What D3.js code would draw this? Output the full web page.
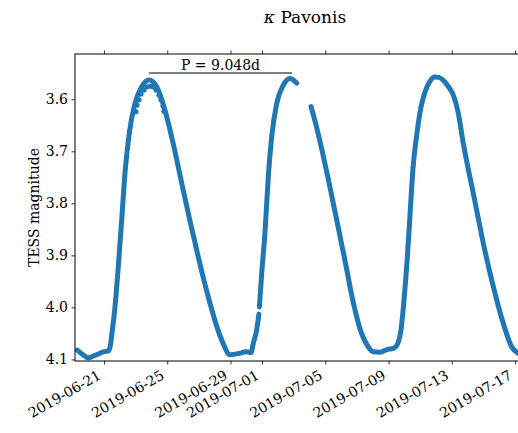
<!DOCTYPE html>
<html>
<head>
<meta charset="utf-8">
<script src="https://cdn.jsdelivr.net/npm/d3@7"></script>
<style>
  body { margin: 0; background: #fff; }
  svg text { font-family: "DejaVu Serif", serif; fill: #000; }
</style>
</head>
<body>
<div id="chart"></div>
<script>
// days since 2019-06-19 00:00 UTC, TESS magnitude
const seg1Days = [0.311, 0.672, 1.007, 1.367, 1.747, 2.0, 2.272, 2.411, 2.506, 2.696, 2.904, 3.12, 3.328, 3.6, 3.961, 4.385, 4.846, 5.333, 5.858, 6.383, 6.915, 7.44, 7.864, 8.281, 8.705, 9.128, 9.546, 9.97, 10.602, 10.981, 11.298, 11.443, 11.658, 11.797]
const seg1Mag = [4.082, 4.091, 4.097, 4.093, 4.088, 4.085, 4.084, 4.072, 4.049, 3.999, 3.922, 3.832, 3.742, 3.665, 3.608, 3.576, 3.563, 3.576, 3.621, 3.686, 3.761, 3.834, 3.89, 3.943, 3.992, 4.036, 4.07, 4.091, 4.088, 4.085, 4.087, 4.069, 4.043, 4.013]
const seg2Days = [11.829, 11.975, 12.184, 12.392, 12.607, 12.924, 13.341, 13.765, 14.189]
const seg2Mag = [3.999, 3.935, 3.855, 3.749, 3.672, 3.608, 3.573, 3.56, 3.569]
const seg3Days = [15.093, 15.409, 15.789, 16.168, 16.548, 16.927, 17.307, 17.623, 17.939, 18.256, 18.635, 19.015, 19.457, 19.9, 20.343, 20.596, 20.786, 20.975, 21.165, 21.355, 21.545, 21.778, 22.051, 22.304, 22.62, 22.905, 23.189, 23.506, 23.79, 24.094, 24.391, 24.726, 25.024, 25.359, 25.992, 26.624, 27.257, 27.788, 28.187, 28.63]
const seg3Mag = [3.614, 3.649, 3.698, 3.751, 3.807, 3.863, 3.92, 3.97, 4.013, 4.047, 4.072, 4.085, 4.086, 4.081, 4.078, 4.068, 4.043, 3.986, 3.913, 3.822, 3.732, 3.669, 3.615, 3.586, 3.565, 3.557, 3.558, 3.565, 3.576, 3.592, 3.624, 3.685, 3.732, 3.781, 3.877, 3.96, 4.031, 4.076, 4.088, 4.095]
// noisy points around the first maximum
const scatterDays = [4.024, 4.087, 4.214, 4.34, 4.53, 4.72, 4.91, 5.099, 5.289, 5.479, 5.605, 5.732, 5.795]
const scatterMag = [3.624, 3.611, 3.601, 3.59, 3.582, 3.576, 3.575, 3.576, 3.582, 3.592, 3.601, 3.613, 3.623]

const xTickLabels = ['2019-06-21', '2019-06-25', '2019-06-29', '2019-07-01', '2019-07-05', '2019-07-09', '2019-07-13', '2019-07-17']
const yTickValues = [3.6, 3.7, 3.8, 3.9, 4.0, 4.1]
const period = 9.048
const periodStart = 4.846

const width = 518, height = 433
const margin = { left: 75, top: 54, right: 535, bottom: 361 }
const t0 = Date.UTC(2019, 5, 19)
const toDate = d => new Date(t0 + d * 864e5)

const x = d3.scaleUtc()
    .domain([new Date(Date.UTC(2019, 5, 19, 4, 0)), new Date(Date.UTC(2019, 6, 18, 6, 14))])
    .range([margin.left, margin.right])
const y = d3.scaleLinear()
    .domain([3.513, 4.103])
    .range([margin.top, margin.bottom])

const svg = d3.select('#chart').append('svg')
    .attr('width', width)
    .attr('height', height)

svg.append('clipPath').attr('id', 'clip')
    .append('rect')
    .attr('x', margin.left).attr('y', margin.top)
    .attr('width', margin.right - margin.left)
    .attr('height', margin.bottom - margin.top)

const zip = (ds, ms) => ds.map((d, i) => ({ t: toDate(d), m: ms[i] }))
const segments = [zip(seg1Days, seg1Mag), zip(seg2Days, seg2Mag), zip(seg3Days, seg3Mag)]

const line = d3.line()
    .x(d => x(d.t))
    .y(d => y(d.m))
    .curve(d3.curveMonotoneX)

const plot = svg.append('g').attr('clip-path', 'url(#clip)')
plot.selectAll('path.lc')
    .data(segments)
    .enter()
    .append('path')
    .classed('lc', true)
    .attr('d', line)
    .attr('fill', 'none')
    .attr('stroke', '#1f77b4')
    .attr('stroke-width', 5)
    .attr('stroke-linecap', 'round')
    .attr('stroke-linejoin', 'round')

plot.selectAll('circle.noise')
    .data(zip(scatterDays, scatterMag))
    .enter()
    .append('circle')
    .classed('noise', true)
    .attr('cx', d => x(d.t))
    .attr('cy', d => y(d.m))
    .attr('r', 2.6)
    .attr('fill', '#1f77b4')

// axes
const tickDates = xTickLabels.map(s => new Date(s + 'T00:00:00Z'))
const fmt = d3.utcFormat('%Y-%m-%d')

const xAxis = svg.append('g')
    .attr('transform', `translate(0,${margin.bottom})`)
    .call(d3.axisBottom(x).tickValues(tickDates).tickSize(3.5).tickFormat(''))
const xTop = svg.append('g')
    .attr('transform', `translate(0,${margin.top})`)
    .call(d3.axisTop(x).tickValues(tickDates).tickSize(3.5).tickFormat(''))
const yAxis = svg.append('g')
    .attr('transform', `translate(${margin.left},0)`)
    .call(d3.axisLeft(y).tickValues(yTickValues).tickSize(3.5).tickPadding(3.5).tickFormat(d3.format('.1f')))

for (const ax of [xAxis, xTop, yAxis]) {
    ax.attr('font-family', null)
    ax.select('.domain').remove()
    ax.selectAll('.tick line').attr('stroke', '#000').attr('stroke-width', 0.8)
}
yAxis.selectAll('.tick text')
    .style('font-family', '"DejaVu Serif", serif')
    .style('font-size', '14px')

svg.append('g').selectAll('text.xlab')
    .data(tickDates)
    .enter()
    .append('text')
    .classed('xlab', true)
    .attr('transform', d => `translate(${x(d) - 2},${margin.bottom + 17}) rotate(-30)`)
    .attr('text-anchor', 'end')
    .style('font-size', '14px')
    .text(d => fmt(d))

// frame
svg.append('rect')
    .attr('x', margin.left).attr('y', margin.top)
    .attr('width', margin.right - margin.left)
    .attr('height', margin.bottom - margin.top)
    .attr('fill', 'none')
    .attr('stroke', '#000')
    .attr('stroke-width', 1)

// period marker
const p0 = toDate(periodStart), p1 = toDate(periodStart + period)
const barY = y(3.5495)
svg.append('line')
    .attr('x1', x(p0)).attr('x2', x(p1))
    .attr('y1', barY).attr('y2', barY)
    .attr('stroke', '#000')
    .attr('stroke-width', 1.2)
svg.append('text')
    .attr('x', (x(p0) + x(p1)) / 2)
    .attr('y', barY - 3)
    .attr('text-anchor', 'middle')
    .style('font-size', '14px')
    .text(`P = ${period.toFixed(3)}d`)

// title and y label
const title = svg.append('text')
    .attr('x', (margin.left + margin.right) / 2)
    .attr('y', 23)
    .attr('text-anchor', 'middle')
    .style('font-size', '17px')
title.append('tspan').style('font-style', 'italic').text('κ')
title.append('tspan').text(' Pavonis')

svg.append('text')
    .attr('transform', `translate(39,${(margin.top + margin.bottom) / 2}) rotate(-90)`)
    .attr('text-anchor', 'middle')
    .style('font-size', '14px')
    .text('TESS magnitude')
</script>
</body>
</html>
